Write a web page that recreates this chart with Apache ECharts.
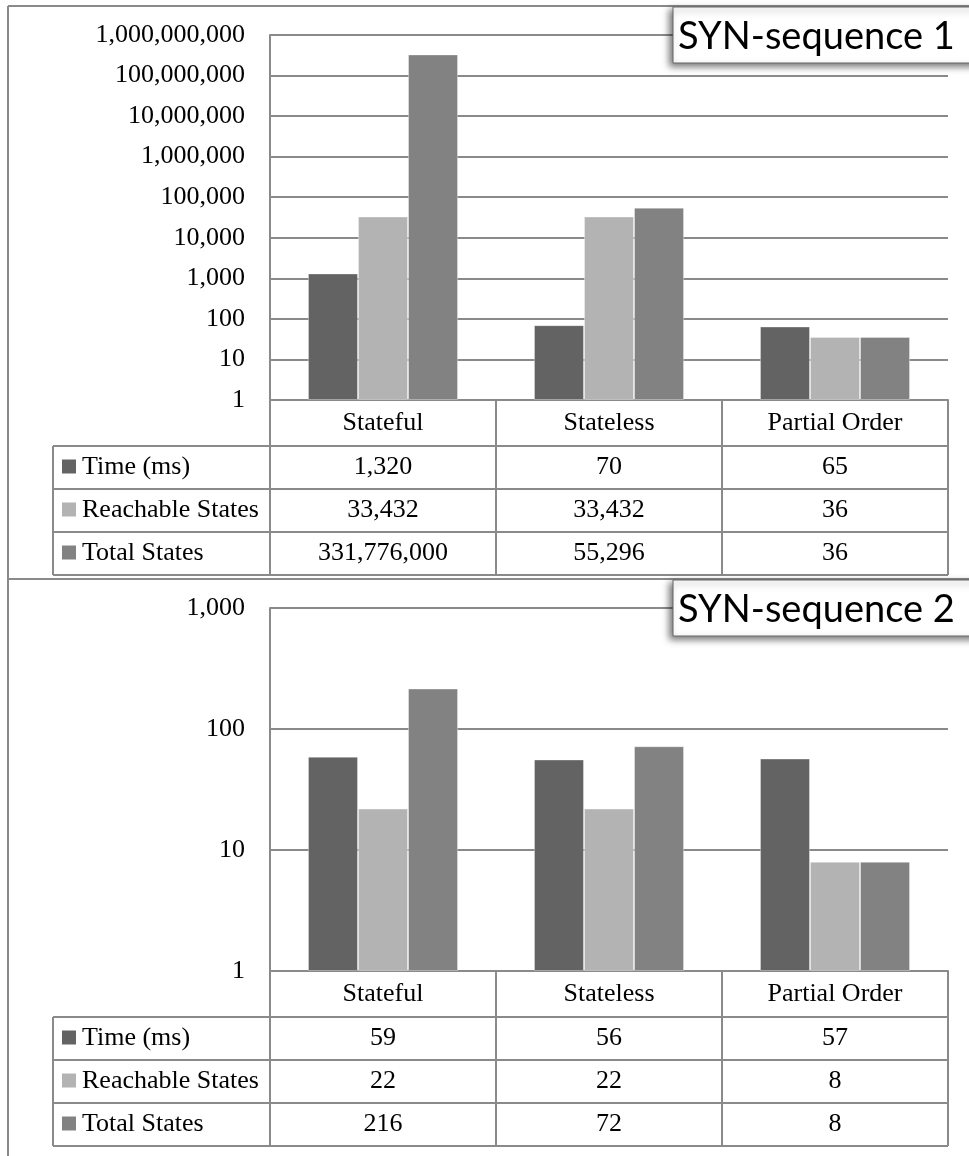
<!DOCTYPE html>
<html>
<head>
<meta charset="utf-8">
<script src="https://cdn.jsdelivr.net/npm/echarts@6/dist/echarts.min.js"></script>
<style>
html, body { margin: 0; background: #fff; }
#main { width: 969px; height: 1156px; }
</style>
</head>
<body>
<div id="main"></div>
<script>
var categories = ['Stateful', 'Stateless', 'Partial Order'];
var seriesNames = ['Time (ms)', 'Reachable States', 'Total States'];
var seriesColors = ['#636363', '#b3b3b3', '#828282'];

// SYN-sequence 1
var seq1Time = [1320, 70, 65];
var seq1Reachable = [33432, 33432, 36];
var seq1Total = [331776000, 55296, 36];

// SYN-sequence 2
var seq2Time = [59, 56, 57];
var seq2Reachable = [22, 22, 8];
var seq2Total = [216, 72, 8];

var panels = [
	{ title: 'SYN-sequence 1', top: 35, bottom: 400, max: 1000000000, frameTop: 6, data: [seq1Time, seq1Reachable, seq1Total] },
	{ title: 'SYN-sequence 2', top: 608, bottom: 971, max: 1000, frameTop: 579, data: [seq2Time, seq2Reachable, seq2Total] }
];

var plotLeft = 270, plotRight = 948, tableLeft = 53;
var catRowH = 46, rowH = 43;
var lineColor = '#8a8a8a';
var serif = 'Liberation Serif, Times New Roman, serif';

function fmt(v) { return Math.round(v).toLocaleString('en-US'); }

var myChart = echarts.init(document.getElementById('main'));

var grids = [], xAxes = [], yAxes = [], series = [], graphics = [];

panels.forEach(function (p, pi) {
	grids.push({ left: plotLeft, width: plotRight - plotLeft, top: p.top, height: p.bottom - p.top });
	xAxes.push({
		type: 'category', gridIndex: pi, data: categories,
		axisLine: { lineStyle: { color: lineColor, width: 2 } },
		axisTick: { show: true, length: catRowH, interval: 0, lineStyle: { color: lineColor, width: 2 } },
		axisLabel: { color: '#000', fontFamily: serif, fontSize: 26, margin: 10, interval: 0 }
	});
	yAxes.push({
		type: 'log', gridIndex: pi, min: 1, max: p.max, logBase: 10,
		axisLine: { show: true, lineStyle: { color: lineColor, width: 2 } },
		axisTick: { show: false },
		splitLine: { show: true, lineStyle: { color: lineColor, width: 2 } },
		axisLabel: { color: '#000', fontFamily: serif, fontSize: 26, margin: 25, formatter: fmt }
	});
	p.data.forEach(function (vals, si) {
		series.push({
			name: seriesNames[si], type: 'bar', xAxisIndex: pi, yAxisIndex: pi,
			data: vals, barGap: 0, barCategoryGap: '33.6%',
			itemStyle: { color: seriesColors[si], borderColor: 'rgba(255,255,255,0.35)', borderWidth: 1 }
		});
	});

	// data table under the plot
	var tTop = p.bottom + catRowH;
	var colW = (plotRight - plotLeft) / categories.length;
	for (var r = 0; r <= seriesNames.length; r++) {
		var y = tTop + r * rowH;
		graphics.push({ type: 'line', shape: { x1: tableLeft, y1: y, x2: plotRight, y2: y }, style: { stroke: lineColor, lineWidth: 2 } });
	}
	var xs = [tableLeft, plotLeft];
	categories.forEach(function (c, ci) { xs.push(plotLeft + (ci + 1) * colW); });
	xs.forEach(function (x) {
		graphics.push({ type: 'line', shape: { x1: x, y1: tTop, x2: x, y2: tTop + seriesNames.length * rowH }, style: { stroke: lineColor, lineWidth: 2 } });
	});
	seriesNames.forEach(function (name, si) {
		var cy = tTop + (si + 0.5) * rowH;
		graphics.push({ type: 'rect', shape: { x: 62, y: cy - 8, width: 14, height: 14 }, style: { fill: seriesColors[si] } });
		graphics.push({ type: 'text', style: { x: 82, y: cy, text: name, fontFamily: serif, fontSize: 26, fill: '#000', align: 'left', verticalAlign: 'middle' } });
		p.data[si].forEach(function (v, ci) {
			graphics.push({ type: 'text', style: { x: plotLeft + (ci + 0.5) * colW, y: cy, text: fmt(v), fontFamily: serif, fontSize: 26, fill: '#000', align: 'center', verticalAlign: 'middle' } });
		});
	});

	// frame line above each panel
	graphics.push({ type: 'line', shape: { x1: 8, y1: p.frameTop, x2: 969, y2: p.frameTop }, style: { stroke: lineColor, lineWidth: 2 } });

	// title box
	graphics.push({
		type: 'rect', z: 100,
		shape: { x: 673, y: p.frameTop + 1, width: 310, height: 56 },
		style: { fill: '#fff', stroke: '#666', lineWidth: 1, shadowBlur: 7, shadowColor: 'rgba(0,0,0,0.55)', shadowOffsetX: -3, shadowOffsetY: 3 }
	});
	graphics.push({
		type: 'text', z: 101,
		style: { x: 678, y: p.frameTop + 31, text: p.title, fontFamily: 'Lato', fontSize: 38, fill: '#000', align: 'left', verticalAlign: 'middle' }
	});
});

// left frame edge
graphics.push({ type: 'line', shape: { x1: 8, y1: 6, x2: 8, y2: 1156 }, style: { stroke: lineColor, lineWidth: 2 } });

var option = {
	animation: false,
	backgroundColor: '#fff',
	grid: grids,
	xAxis: xAxes,
	yAxis: yAxes,
	series: series,
	graphic: graphics
};
myChart.setOption(option);
</script>
</body>
</html>
